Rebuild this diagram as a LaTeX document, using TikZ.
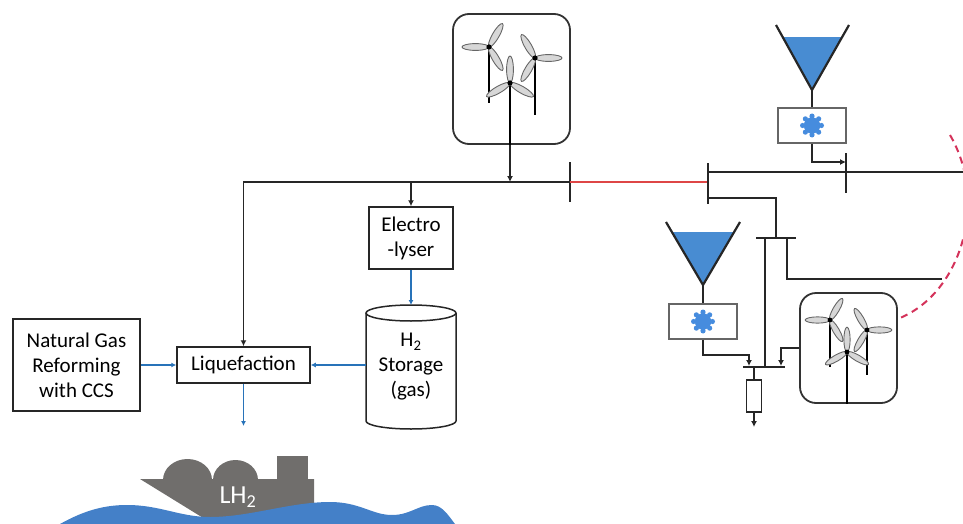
\documentclass[tikz,border=0pt]{standalone}
\usepackage{fontspec}
\setmainfont{Carlito}
\usetikzlibrary{arrows.meta,calc}
\definecolor{lineblue}{RGB}{40,115,185}
\definecolor{fillblue}{RGB}{72,140,210}
\definecolor{waterblue}{RGB}{68,128,200}
\definecolor{gearblue}{RGB}{70,140,222}
\definecolor{tieline}{RGB}{222,70,70}
\definecolor{borderdash}{RGB}{212,50,90}
\definecolor{shipgray}{RGB}{112,110,108}
\definecolor{bladegray}{RGB}{215,215,215}
\begin{document}
\begin{tikzpicture}[x=1pt,y=1pt,
  wire/.style={line width=1.8pt, draw=black!85},
  feed/.style={wire, -{Latex[length=6pt,width=6pt]}},
  flow/.style={line width=1.3pt, draw=lineblue, -{Latex[length=5pt,width=5pt]}},
  busbar/.style={line width=2pt, draw=black!85},
  procbox/.style={draw=black!85, line width=1.5pt, inner sep=0pt, align=center,
    font=\fontsize{21}{25}\selectfont},
  plaintext/.style={inner sep=0pt, align=center, font=\fontsize{21}{25}\selectfont},
  windbox/.style={draw=black!80, line width=1.8pt, rounded corners=16pt, inner sep=0pt},
  genbox/.style={draw=black!60, line width=1.5pt, inner sep=0pt,
    minimum width=68pt, minimum height=35pt},
  vshape/.style={line width=2.2pt, draw=black!85, line join=miter},
  pics/turbine/.style={code={
    \foreach \k in {0,120,240}{
      \filldraw[fill=bladegray, draw=black!60, line width=0.9pt, rotate=#1+\k]
        (13.5,0) ellipse [x radius=13.5, y radius=3.4];
    }
    \fill[black] (0,0) circle (2.6);
  }},
  pics/gear/.style={code={
    \fill[gearblue] (0,0) circle (8.2);
    \foreach \a in {0,45,...,315}{ \fill[gearblue] (\a:9.4) circle (2.6); }
  }}
]
\useasboundingbox (0,0) rectangle (963,-524);

% ---------------- process chain (left) ----------------
\node[procbox, minimum width=133pt, minimum height=36pt] (liq) at (243.5,-365) {Liquefaction};
\node[procbox, minimum width=127pt, minimum height=92pt] (ng) at (76.5,-365) {Natural Gas\\Reforming\\with CCS};
\node[procbox, minimum width=84pt, minimum height=62pt] (elec) at (411,-238) {Electro\\-lyser};
\node[plaintext, minimum width=90pt, minimum height=100pt] (h2) at (411,-367) {H\textsubscript{2}\\Storage\\(gas)};

% hydrogen storage tank
\coordinate (h2top) at (411,-305);
\draw[line width=1.5pt, draw=black!85] (366,-313) -- (366,-421) arc (180:360:45 and 8) -- (456,-313);
\draw[line width=1.5pt, draw=black!85] (411,-313) ellipse [x radius=45, y radius=8];

\draw[flow] (ng.east) -- (liq.west);
\draw[flow] (liq.east -| h2.west) -- (liq.east);
\draw[flow] (elec.south) -- (h2top);
\coordinate (shipdrop) at (243.5,-426);
\draw[flow] (liq.south) -- (shipdrop);

% ---------------- wind farm on the main bus ----------------
\node[windbox, minimum width=117pt, minimum height=130pt] (windT) at (511.5,-79) {};
\coordinate (tA) at (489,-47);
\coordinate (tB) at (535,-58);
\coordinate (tC) at (510,-83);
\draw[line width=2.5pt] (tA) -- ++(0,-56);
\draw[line width=2.5pt] (tB) -- ++(0,-57);
\draw[line width=2.5pt] (tC) -- (tC |- windT.south);
\pic at (tA) {turbine=60};
\pic at (tB) {turbine=0};
\pic at (tC) {turbine=90};

% main bus
\coordinate (bar1) at (570,-182);
\coordinate (busL) at (243.5,-182);
\coordinate (windtap) at (510,-182);
\draw[feed] (bar1) -- (busL) -- (liq.north);
\draw[feed] (elec.north |- busL) -- (elec.north);
\draw[feed] (tC |- windT.south) -- (windtap);
\draw[busbar] ($(bar1)+(0,20)$) -- ($(bar1)+(0,-20)$);

% tie line
\coordinate (bar2) at (708,-182);
\draw[line width=1.8pt, draw=tieline] (bar1) -- (bar2);
\draw[busbar] ($(bar2)+(0,19)$) -- ($(bar2)+(0,-22)$);

% ---------------- neighbouring network (right) ----------------
\coordinate (busU) at (708,-172);
\coordinate (busUend) at (963,-172);
\draw[wire] (busU) -- (busUend);
\coordinate (bar3) at (846,-173);
\draw[busbar] (846,-153) -- (846,-193);

% upper hydro unit
\coordinate (uTL) at (776,-25);
\coordinate (uTR) at (849,-25);
\coordinate (uA) at (812,-90);
\fill[fillblue] ($(uTL)!0.185!(uA)$) -- ($(uTR)!0.185!(uA)$) -- (uA) -- cycle;
\draw[vshape] (uTL) -- (uA) -- (uTR);
\node[genbox] (genU) at (812,-125.5) {};
\pic at (genU.center) {gear};
\draw[wire, line width=1.6pt] (uA) -- (genU.north);
\coordinate (b3in) at (846,-162);
\draw[feed] (genU.south) |- (b3in);

% branch to the lower feeder
\coordinate (tbar) at (776,-238);
\draw[wire] ($(bar2)+(0,-16)$) -| (tbar);
\draw[busbar] (756,-238) -- (796,-238);
\coordinate (lowbus) at (765,-367);
\coordinate (farline) at (942,-279);
\draw[wire] (765,-238) -- (lowbus);
\draw[wire] (787,-238) |- (farline);

% lower hydro unit
\coordinate (lTL) at (666,-222);
\coordinate (lTR) at (740,-222);
\coordinate (lA) at (703,-285);
\fill[fillblue] ($(lTL)!0.16!(lA)$) -- ($(lTR)!0.16!(lA)$) -- (lA) -- cycle;
\draw[vshape] (lTL) -- (lA) -- (lTR);
\node[genbox] (genL) at (703,-321.5) {};
\pic at (genL.center) {gear};
\draw[wire, line width=1.6pt] (lA) -- (genL.north);

% lower bus with load
\draw[busbar] (743,-367) -- (785,-367);
\coordinate (lbin) at (749,-366);
\draw[feed, line width=1.6pt] (genL.south) -- ++(0,-15) -| (lbin);

\node[windbox, minimum width=97pt, minimum height=110pt] (windL) at (848.5,-348) {};
\coordinate (rbin) at (781,-366);
\draw[feed, line width=1.6pt] (windL.west) -| (rbin);
\coordinate (sA) at (830,-320);
\coordinate (sB) at (867,-330);
\coordinate (sC) at (847,-352);
\draw[line width=2.5pt] (sA) -- ++(0,-47);
\draw[line width=2.5pt] (sB) -- ++(0,-45);
\draw[line width=2.5pt] (sC) -- (sC |- windL.south);
\pic[scale=0.92] at (sA) {turbine=60};
\pic[scale=0.92] at (sB) {turbine=0};
\pic[scale=0.92] at (sC) {turbine=90};

\node[draw=black!85, line width=1.3pt, minimum width=15pt, minimum height=32pt, inner sep=0pt] (load) at (754,-396) {};
\coordinate (loadtap) at (754,-367);
\coordinate (loadout) at (754,-427);
\draw[wire, line width=1.6pt] (loadtap) -- (load.north);
\draw[feed, line width=1.6pt] (load.south) -- (loadout);

% ---------------- clipped scenery ----------------
\begin{scope}
\clip (0,0) rectangle (963,-524);
% area border
\coordinate (arcTop) at (950,-135);
\coordinate (arcBot) at (900,-318);
\draw[draw=borderdash, line width=2pt, dash pattern=on 7pt off 5pt]
  (arcTop) .. controls (988,-200) and (962,-292) .. (arcBot);

% LH2 carrier
\fill[shipgray] (187.5,-480) ellipse [x radius=24.5, y radius=21];
\fill[shipgray] (235.5,-480) ellipse [x radius=22.5, y radius=20];
\fill[shipgray] (277,-456) rectangle (308,-480);
\fill[shipgray] (140,-479) -- (314,-479) -- (314,-524) -- (213,-524) -- cycle;
\fill[waterblue] (60,-524) .. controls (85,-510) and (105,-505) .. (127,-505)
  .. controls (160,-505) and (180,-517) .. (210,-517)
  .. controls (250,-517) and (290,-502) .. (330,-502)
  .. controls (360,-502) and (372,-515) .. (392,-515)
  .. controls (410,-515) and (418,-505) .. (432,-505)
  .. controls (442,-505) and (448,-515) .. (455,-524) -- cycle;
\node[text=white, inner sep=0pt, font=\fontsize{26}{28}\selectfont] (lh2) at (238,-497) {LH\textsubscript{2}};
\end{scope}
\end{tikzpicture}
\end{document}
